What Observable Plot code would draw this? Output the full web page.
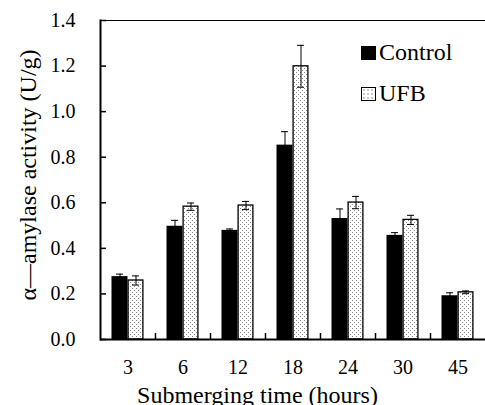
<!DOCTYPE html>
<html>
<head>
<meta charset="utf-8">
<script src="https://cdn.jsdelivr.net/npm/d3@7"></script>
<script src="https://cdn.jsdelivr.net/npm/@observablehq/plot@0.6"></script>
<style>
  body { margin: 0; background: #fff; }
  #wrap { position: relative; width: 485px; height: 405px; overflow: hidden; font-family: 'Liberation Serif'; }
  #legend { position: absolute; left: 361px; top: 32px; font-size: 24px; color: #000; font-family: 'Liberation Serif'; z-index: 2; }
  #legend .row { display: flex; align-items: center; height: 41px; }
  #legend .sw { width: 15px; height: 14px; margin-right: 3px; box-sizing: border-box; }
  #sw-control { background: #000; }
  #sw-ufb { border: 1.3px solid #000; background-color: #fff; background-image: radial-gradient(#8a8a8a 0.6px, transparent 0.8px); background-size: 4px 4px; }
  #xlabel { position: absolute; left: 0; width: 515px; top: 383px; line-height: 24px; font-size: 24px; text-align: center; font-family: 'Liberation Serif'; color: #000; white-space: nowrap; z-index: 2; }
</style>
</head>
<body>
<div id="wrap">
  <div id="legend">
    <div class="row"><span class="sw" id="sw-control"></span><span>Control</span></div>
    <div class="row"><span class="sw" id="sw-ufb"></span><span>UFB</span></div>
  </div>
  <div id="xlabel">Submerging time (hours)</div>
</div>
<script>
const times = ["3", "6", "12", "18", "24", "30", "45"];
const series = ["Control", "UFB"];
const control = [0.276, 0.497, 0.479, 0.853, 0.531, 0.457, 0.192];
const controlErr = [0.011, 0.026, 0.006, 0.059, 0.042, 0.012, 0.013];
const ufb = [0.259, 0.583, 0.588, 1.199, 0.601, 0.525, 0.207];
const ufbErr = [0.020, 0.016, 0.018, 0.092, 0.027, 0.020, 0.006];
const yTicks = [0, 0.2, 0.4, 0.6, 0.8, 1.0, 1.2, 1.4];
const yLabel = "α\u2014amylase activity (U/g)";

const ctl = times.map((t, i) => ({time: t, value: control[i], lo: control[i] - controlErr[i], hi: control[i] + controlErr[i]}));
const uf = times.map((t, i) => ({time: t, value: ufb[i], lo: ufb[i] - ufbErr[i], hi: ufb[i] + ufbErr[i]}));

const W = 485, H = 405, mL = 100, mR = 0, mT = 20, mB = 66;
const band = (W - mL - mR) / times.length;
const barW = 16;
const outer = (band - 2 * barW) / 2;
const capW = 7;
const FONT = "Liberation Serif";

const chart = Plot.plot({
  width: W, height: H,
  marginLeft: mL, marginRight: mR, marginTop: mT, marginBottom: mB,
  style: {fontFamily: FONT, fontSize: "20px", color: "#000", background: "#fff"},
  x: {type: "band", domain: times, padding: 0, label: null},
  y: {domain: [0, 1.4], label: null},
  marks: [
    Plot.barY(ctl, {x: "time", y: "value", fill: "#000", insetLeft: outer, insetRight: outer + barW}),
    Plot.barY(uf, {x: "time", y: "value", fill: "url(#ufbDots)", stroke: "#000", strokeWidth: 1.3, insetLeft: outer + barW + 0.6, insetRight: outer + 0.6}),
    Plot.ruleX(ctl, {x: "time", y1: "lo", y2: "hi", stroke: "#000", strokeWidth: 1, dx: -barW / 2}),
    Plot.tickY(ctl, {x: "time", y: "hi", stroke: "#000", strokeWidth: 1, insetLeft: outer + barW / 2 - capW / 2, insetRight: outer + barW * 1.5 - capW / 2}),
    Plot.tickY(ctl, {x: "time", y: "lo", stroke: "#000", strokeWidth: 1, insetLeft: outer + barW / 2 - capW / 2, insetRight: outer + barW * 1.5 - capW / 2}),
    Plot.ruleX(uf, {x: "time", y1: "lo", y2: "hi", stroke: "#000", strokeWidth: 1, dx: barW / 2}),
    Plot.tickY(uf, {x: "time", y: "hi", stroke: "#000", strokeWidth: 1, insetLeft: outer + barW * 1.5 - capW / 2, insetRight: outer + barW / 2 - capW / 2}),
    Plot.tickY(uf, {x: "time", y: "lo", stroke: "#000", strokeWidth: 1, insetLeft: outer + barW * 1.5 - capW / 2, insetRight: outer + barW / 2 - capW / 2}),
    Plot.ruleY([1.4], {stroke: "#000", strokeWidth: 1}),
    Plot.ruleY([0], {stroke: "#000", strokeWidth: 2}),
    Plot.frame({anchor: "left", stroke: "#000", strokeWidth: 2}),
    Plot.axisY({ticks: yTicks, tickSize: 6, tickFormat: () => "", dx: 6, label: null, stroke: "#000", strokeWidth: 1.5}),
    Plot.axisY({ticks: yTicks, tickSize: 0, tickPadding: 25, tickFormat: d3.format(".1f"), label: null, fontSize: 20, fontFamily: FONT}),
    Plot.axisX({ticks: times.slice(1), tickSize: 6, tickFormat: () => "", dx: -band / 2, dy: -6, label: null, stroke: "#000", strokeWidth: 1.5}),
    Plot.axisX({tickSize: 0, tickPadding: 20, label: null, fontSize: 20, fontFamily: FONT}),
    Plot.text([yLabel], {frameAnchor: "left", textAnchor: "middle", rotate: -90, dx: -72, dy: -5, fontSize: 24, fontFamily: FONT, lineAnchor: "middle", fill: "#000"})
  ]
});

// dotted pattern for UFB bars
const ns = "http://www.w3.org/2000/svg";
const defs = document.createElementNS(ns, "defs");
defs.innerHTML = `<pattern id="ufbDots" patternUnits="userSpaceOnUse" width="4" height="4">
  <rect width="4" height="4" fill="#fff"/>
  <rect x="0" y="0" width="1" height="1" fill="#8a8a8a"/>
  <rect x="2" y="2" width="1" height="1" fill="#8a8a8a"/>
</pattern>`;
chart.insertBefore(defs, chart.firstChild);

const wrap = document.getElementById("wrap");
wrap.insertBefore(chart, wrap.firstChild);
</script>
</body>
</html>
